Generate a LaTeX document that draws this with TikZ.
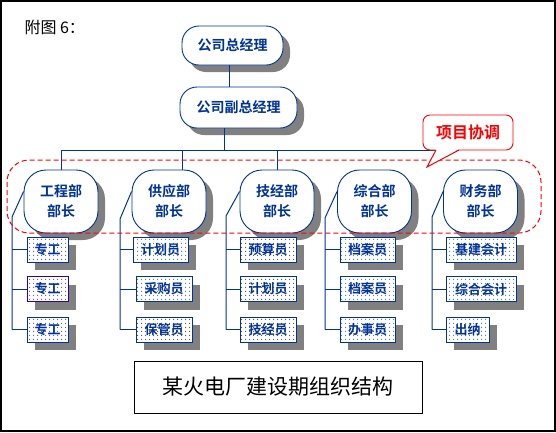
\documentclass[tikz,border=0pt]{standalone}
\usepackage{fontspec}
\newfontfamily\cjk{Noto Sans CJK SC}[BoldFont={Noto Sans CJK SC Bold}]
\usetikzlibrary{shadows,patterns.meta}
\definecolor{navy}{RGB}{0,51,153}
\definecolor{brightblue}{RGB}{0,0,230}
\definecolor{shade}{RGB}{128,128,128}
\tikzdeclarepattern{
  name=sparsedots,
  type=uncolored,
  bounding box={(0pt,0pt) and (4pt,4pt)},
  tile size={(4pt,4pt)},
  code={\fill (2pt,2pt) circle (0.6pt);}
}
\begin{document}
\begin{tikzpicture}[x=1pt,y=-1pt,
  line/.style={draw=navy, line width=1pt},
  shad/.style={drop shadow={shadow xshift=#1, shadow yshift=-#1, fill=shade, opacity=1}},
  topbox/.style={draw=navy, fill=white, line width=0.9pt, rounded corners=17pt,
    inner sep=0pt, text=navy, font=\cjk\bfseries\fontsize{14}{16}\selectfont, shad=7pt},
  dept/.style={draw=navy, fill=white, line width=0.9pt, rounded corners=22pt,
    minimum width=74pt, minimum height=63pt, inner sep=0pt, align=center,
    text=navy, font=\cjk\bfseries\fontsize{14}{20}\selectfont, shad=7pt},
  staff/.style={draw=navy, fill=white, line width=1pt, minimum height=25pt,
    inner sep=0pt, text=navy, font=\cjk\bfseries\fontsize{13}{15}\selectfont, shad=8pt,
    postaction={pattern=sparsedots, pattern color=#1}},
  staff/.default=navy,
  redline/.style={draw=red, line width=1pt}
]
\useasboundingbox (0,0) rectangle (556,432);
\draw[black, line width=2pt] (1,1) rectangle (555,431);

\node[anchor=west, font=\cjk\fontsize{16}{18}\selectfont] (fig) at (21,27) {附图 6：};

% top nodes
\node[topbox, minimum width=101pt, minimum height=39pt] (gm) at (232.5,45.5) {公司总经理};
\node[topbox, minimum width=117pt, minimum height=41pt] (dgm) at (238.5,107.5) {公司副总经理};

% departments
\node[dept] (eng) at (61,201.5) {工程部\\部长};
\node[dept] (sup) at (169,201.5) {供应部\\部长};
\node[dept] (tec) at (277,201.5) {技经部\\部长};
\node[dept] (gen) at (374.5,201.5) {综合部\\部长};
\node[dept] (fin) at (480.5,201.5) {财务部\\部长};

% staff boxes
\node[staff=brightblue, minimum width=41pt] (e1) at (47.5,249.5) {专工};
\node[staff=brightblue, minimum width=41pt, draw={rgb,255:red,51;green,0;blue,153}] (e2) at (47.5,289) {专工};
\node[staff=brightblue, minimum width=41pt] (e3) at (47.5,329.5) {专工};

\node[staff, minimum width=55pt] (s1) at (160.5,249.5) {计划员};
\node[staff, minimum width=56pt] (s2) at (164,289) {采购员};
\node[staff=black, minimum width=56pt] (s3) at (164,329.5) {保管员};

\node[staff=black, minimum width=56pt] (t1) at (268,249.5) {预算员};
\node[staff=black, minimum width=56pt] (t2) at (268,289) {计划员};
\node[staff=black, minimum width=56pt] (t3) at (268,329.5) {技经员};

\node[staff, minimum width=55pt] (g1) at (367.5,249.5) {档案员};
\node[staff, minimum width=55pt] (g2) at (367.5,289) {档案员};
\node[staff, minimum width=55pt] (g3) at (367.5,329.5) {办事员};

\node[staff, minimum width=70pt] (f1) at (481,249.5) {基建会计};
\node[staff, minimum width=70pt] (f2) at (481,289) {综合会计};
\node[staff, minimum width=43pt] (f3) at (467.5,329.5) {出纳};

% top connectors
\coordinate (gx) at (229,0);
\draw[line] (gx |- gm.south) -- (gx |- dgm.north);
\coordinate (b0) at (224,150);
\coordinate (bL) at (61,150);
\coordinate (b2) at (182,150);
\coordinate (b3) at (277,150);
\coordinate (bR) at (459,150);
\draw[line] (b0 |- dgm.south) -- (b0);
\draw[line] (bL) -- (bR);
\draw[line] (bL) -- (eng.north);
\draw[line] (b2) -- (b2 |- sup.north);
\draw[line] (b3) -- (tec.north);

% department branches
\coordinate (ve) at (12,217);
\coordinate (vs) at (120,219);
\coordinate (vt) at (226,216);
\coordinate (vg) at (325,218);
\coordinate (vf) at (432,217);
\foreach \d/\v/\s in {eng/ve/e, sup/vs/s, tec/vt/t, gen/vg/g, fin/vf/f}{
  \draw[line] ([yshift=10pt]\d.west) -- (\v) -- (\v |- \s3.west);
  \foreach \k in {1,2,3}{
    \draw[line] (\v |- \s\k.west) -- (\s\k.west);
  }
}

% project coordination dashed region
\draw[red, line width=1pt, dash pattern=on 5pt off 3pt, rounded corners=22pt] (7,160) rectangle (541,233);

% callout
\node[draw=red, fill=white, line width=0.9pt, rounded corners=7pt, minimum width=90pt,
  minimum height=35pt, inner sep=0pt, text=red, font=\cjk\bfseries\fontsize{16}{18}\selectfont]
  (call) at (468,132.5) {项目协调};
\coordinate (tl) at (436,150);
\coordinate (tip) at (427,167);
\coordinate (tr) at (459,150);
\fill[white] ([yshift=1pt]tl) -- (tip) -- ([yshift=1pt]tr) -- cycle;
\draw[redline, line join=miter] (tl) -- (tip) -- (tr);

% title
\node[draw=black, line width=1pt, minimum width=288pt, minimum height=52pt, inner sep=0pt,
  font=\cjk\fontsize{21}{24}\selectfont] (title) at (278,387) {某火电厂建设期组织结构};
\end{tikzpicture}
\end{document}
